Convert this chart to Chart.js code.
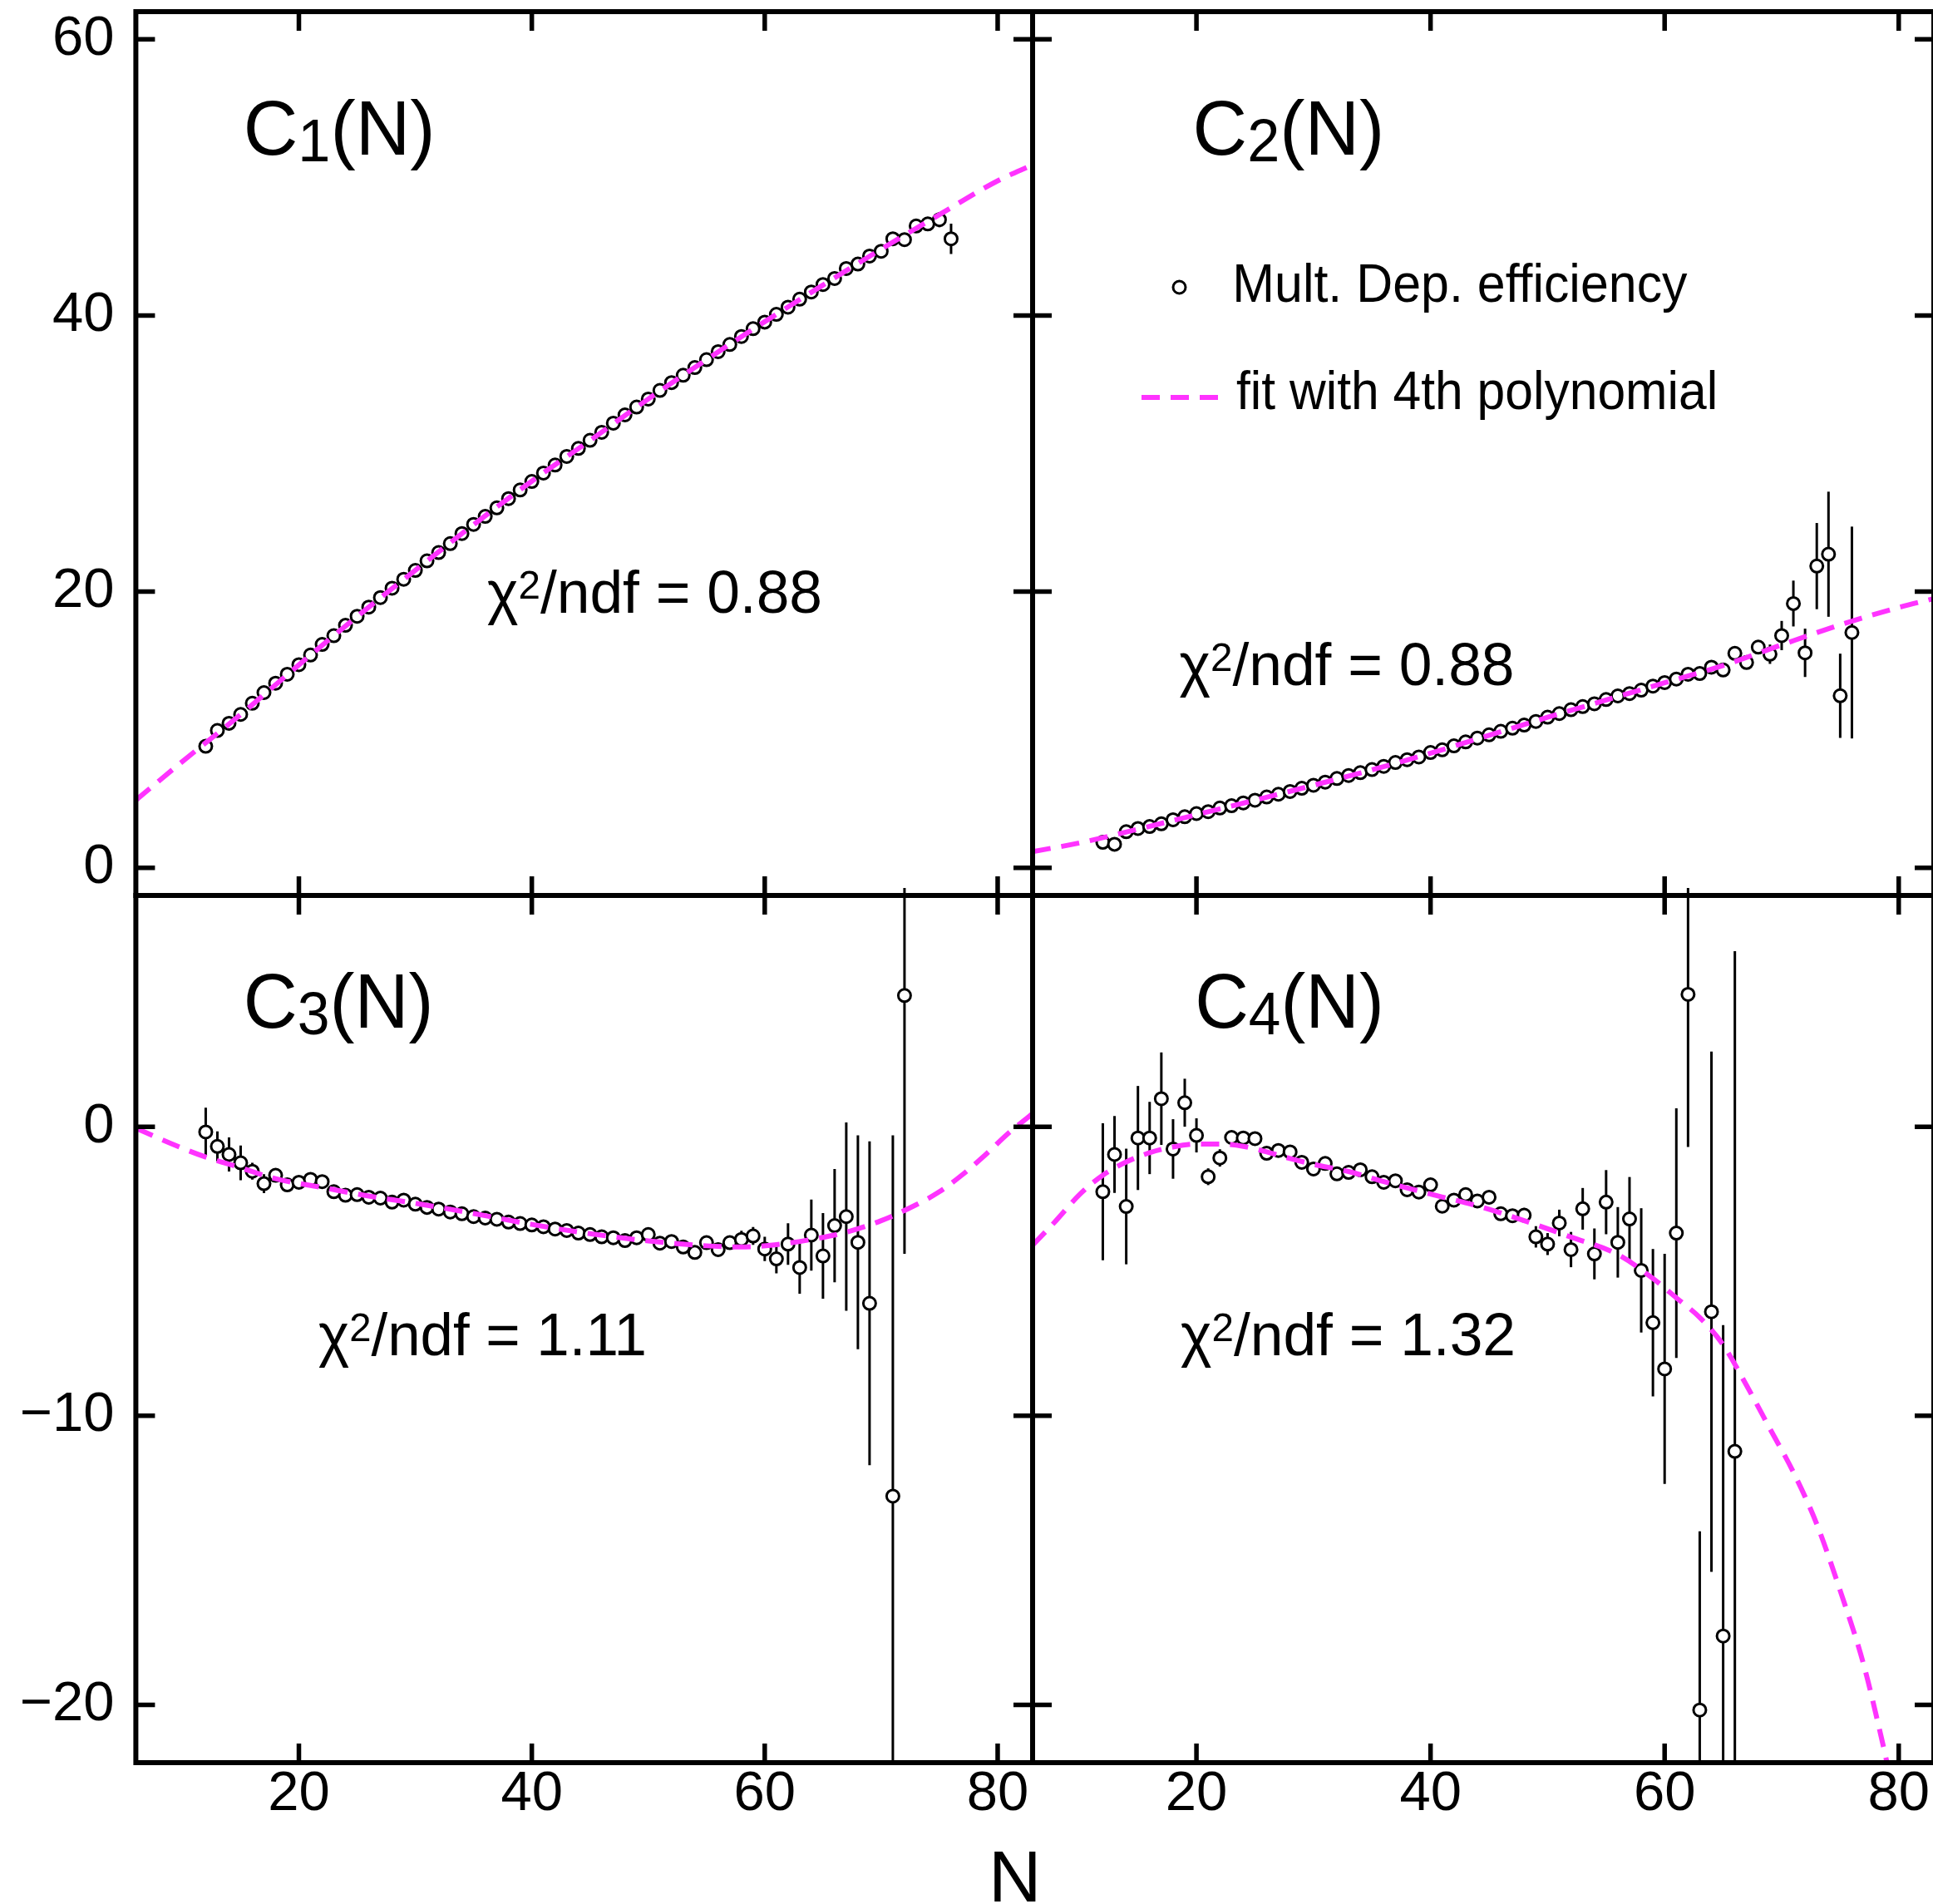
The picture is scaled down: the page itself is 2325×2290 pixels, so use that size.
<!DOCTYPE html>
<html>
<head>
<meta charset="utf-8">
<script src="https://cdn.jsdelivr.net/npm/chart.js@4.4.1/dist/chart.umd.min.js"></script>
<style>
html, body { margin:0; padding:0; background:#ffffff; width:2325px; height:2290px; overflow:hidden; }
canvas { position:absolute; left:0; top:0; }
</style>
</head>
<body>
<canvas id="c1" width="2340" height="2310"></canvas>
<canvas id="c2" width="2340" height="2310"></canvas>
<canvas id="c3" width="2340" height="2310"></canvas>
<canvas id="c4" width="2340" height="2310"></canvas>
<script>
// ---------------- data ----------------
const x_ticks = [20, 40, 60, 80];
const y_ticks_top = [0, 20, 40, 60];
const y_ticks_bottom = [-20, -10, 0];

const n_c1 = [12,13,14,15,16,17,18,19,20,21,22,23,24,25,26,27,28,29,30,31,32,33,34,35,36,37,38,39,40,41,42,43,44,45,46,47,48,49,50,51,52,53,54,55,56,57,58,59,60,61,62,63,64,65,66,67,68,69,70,71,72,73,74,75,76];
const c1_val = [8.80,9.95,10.47,11.11,11.92,12.69,13.37,14.02,14.71,15.41,16.18,16.81,17.56,18.22,18.88,19.57,20.25,20.90,21.54,22.23,22.83,23.48,24.21,24.87,25.45,26.07,26.74,27.36,27.98,28.59,29.17,29.79,30.37,30.96,31.54,32.20,32.80,33.37,33.95,34.57,35.14,35.67,36.23,36.80,37.38,37.90,38.48,39.04,39.52,40.08,40.60,41.18,41.70,42.24,42.68,43.40,43.72,44.30,44.65,45.55,45.49,46.48,46.63,46.94,45.55];
const c1_err = [0.08,0.08,0.08,0.08,0.08,0.08,0.08,0.08,0.08,0.08,0.08,0.08,0.08,0.08,0.08,0.08,0.08,0.08,0.08,0.08,0.08,0.08,0.08,0.08,0.08,0.08,0.08,0.08,0.08,0.08,0.08,0.08,0.08,0.08,0.08,0.08,0.08,0.08,0.08,0.10,0.10,0.10,0.10,0.10,0.10,0.10,0.10,0.10,0.10,0.15,0.15,0.15,0.15,0.15,0.15,0.20,0.20,0.20,0.20,0.30,0.30,0.35,0.45,0.55,1.10];

const n_c2 = [12,13,14,15,16,17,18,19,20,21,22,23,24,25,26,27,28,29,30,31,32,33,34,35,36,37,38,39,40,41,42,43,44,45,46,47,48,49,50,51,52,53,54,55,56,57,58,59,60,61,62,63,64,65,66,67,68,69,70,71,72,73,74,75,76];
const c2_val = [1.85,1.71,2.62,2.85,2.99,3.19,3.48,3.70,3.93,4.07,4.33,4.50,4.70,4.90,5.13,5.33,5.53,5.76,5.98,6.21,6.47,6.69,6.89,7.12,7.35,7.63,7.83,8.03,8.35,8.55,8.83,9.12,9.40,9.63,9.89,10.11,10.34,10.60,10.91,11.17,11.45,11.68,11.88,12.19,12.45,12.62,12.87,13.16,13.42,13.67,14.02,14.07,14.53,14.33,15.53,14.87,15.98,15.47,16.82,19.14,15.57,21.85,22.71,12.46,17.04];
const c2_err = [0.08,0.08,0.08,0.08,0.08,0.08,0.08,0.08,0.08,0.08,0.08,0.08,0.08,0.08,0.08,0.08,0.08,0.08,0.08,0.08,0.08,0.08,0.08,0.08,0.08,0.08,0.08,0.08,0.08,0.08,0.08,0.08,0.08,0.08,0.08,0.08,0.08,0.08,0.08,0.08,0.08,0.08,0.08,0.08,0.12,0.12,0.12,0.12,0.12,0.12,0.12,0.20,0.25,0.25,0.30,0.35,0.50,0.70,1.06,1.66,1.75,3.12,4.53,3.05,7.67];

const n_c3 = [12,13,14,15,16,17,18,19,20,21,22,23,24,25,26,27,28,29,30,31,32,33,34,35,36,37,38,39,40,41,42,43,44,45,46,47,48,49,50,51,52,53,54,55,56,57,58,59,60,61,62,63,64,65,66,67,68,69,71,72];
const c3_val = [-0.18,-0.68,-0.96,-1.25,-1.54,-1.97,-1.68,-2.01,-1.92,-1.82,-1.90,-2.25,-2.37,-2.35,-2.44,-2.47,-2.61,-2.54,-2.68,-2.79,-2.85,-2.95,-3.01,-3.11,-3.16,-3.20,-3.30,-3.35,-3.40,-3.46,-3.54,-3.59,-3.68,-3.73,-3.81,-3.84,-3.94,-3.84,-3.73,-4.03,-3.97,-4.16,-4.35,-4.01,-4.25,-4.01,-3.90,-3.78,-4.23,-4.57,-4.06,-4.87,-3.75,-4.47,-3.42,-3.11,-4.00,-6.11,-12.78,4.54];
const c3_err = [0.84,0.52,0.59,0.60,0.29,0.33,0.20,0.15,0.14,0.13,0.12,0.10,0.10,0.10,0.10,0.10,0.10,0.10,0.10,0.10,0.10,0.10,0.10,0.10,0.10,0.10,0.10,0.10,0.10,0.10,0.10,0.10,0.10,0.10,0.10,0.10,0.10,0.10,0.10,0.12,0.12,0.12,0.12,0.12,0.15,0.18,0.30,0.31,0.42,0.50,0.72,0.91,1.23,1.48,1.96,3.26,3.70,5.60,12.48,8.94];

const n_c4 = [12,13,14,15,16,17,18,19,20,21,22,23,24,25,26,27,28,29,30,31,32,33,34,35,36,37,38,39,40,41,42,43,44,45,46,47,48,49,50,51,52,53,54,55,56,57,58,59,60,61,62,63,64,65,66];
const c4_val = [-2.25,-0.96,-2.76,-0.39,-0.39,0.97,-0.77,0.83,-0.30,-1.73,-1.08,-0.37,-0.39,-0.41,-0.92,-0.82,-0.87,-1.23,-1.46,-1.27,-1.63,-1.58,-1.49,-1.73,-1.92,-1.87,-2.18,-2.26,-2.01,-2.75,-2.54,-2.35,-2.57,-2.44,-3.01,-3.08,-3.06,-3.81,-4.06,-3.33,-4.25,-2.84,-4.40,-2.61,-4.00,-3.19,-4.97,-6.78,-8.38,-3.68,4.58,-20.18,-6.40,-17.62,-11.23];
const c4_err = [2.37,1.33,2.00,1.80,1.25,1.60,1.03,0.83,0.59,0.29,0.30,0.15,0.15,0.15,0.14,0.14,0.14,0.14,0.14,0.14,0.14,0.15,0.15,0.15,0.16,0.16,0.17,0.17,0.18,0.18,0.19,0.19,0.20,0.20,0.20,0.20,0.25,0.37,0.38,0.46,0.61,0.72,0.88,1.11,1.22,1.45,2.15,2.55,3.98,4.32,5.28,6.18,9.00,10.76,17.30];

// 4th-order polynomial fit curves
const fit_n_c1 = [6,10,15,20,25,30,35,40,45,50,55,60,65,70,75,80,83];
const fit_c1 = [4.9,7.7,11.1,14.7,18.2,21.55,24.85,28.0,30.95,33.95,36.8,39.55,42.2,44.8,47.3,49.75,50.9];
const fit_n_c2 = [6,10,15,20,25,30,35,40,45,50,55,60,65,70,75,80,83];
const fit_c2 = [1.18,1.8,2.8,3.85,4.9,5.98,7.1,8.3,9.6,10.9,12.15,13.4,14.65,16.15,17.6,18.85,19.5];
const fit_n_c3 = [6,9,12,15,18,22,26,30,35,40,45,50,55,58,61,64,67,70,73,75,77,79,81,83];
const fit_c3 = [-0.05,-0.58,-1.05,-1.42,-1.8,-2.1,-2.4,-2.65,-3.0,-3.38,-3.7,-3.95,-4.12,-4.16,-4.08,-3.9,-3.65,-3.25,-2.7,-2.25,-1.65,-0.95,-0.2,0.45];
const fit_n_c4 = [6,8,10,12,14,16,18,20,22,24,26,28,30,33,36,40,44,48,52,56,59,61,63,65,67,69,71,73,75,77,78.5,79];
const fit_c4 = [-4.1,-3.25,-2.35,-1.68,-1.22,-0.9,-0.7,-0.6,-0.6,-0.68,-0.87,-1.1,-1.3,-1.55,-1.9,-2.33,-2.74,-3.25,-3.82,-4.42,-5.25,-5.92,-6.6,-7.55,-8.95,-10.45,-11.95,-13.75,-16.05,-18.6,-21.1,-22.0];

const panel_names = ['1', '2', '3', '4'];
const chi_texts = ['0.88', '0.88', '1.11', '1.32'];
const legend_texts = ['Mult. Dep. efficiency', 'fit with 4th polynomial'];
const axis_title = 'N';

// ---------------- styling ----------------
const FONT = '"Liberation Sans", Arial, Helvetica, sans-serif';
const MAGENTA = '#ff33ff';
const DASH = [22, 13];
const CW = 2340, CH = 2310;
const MID_Y = 1077;
const MID_X = 1242;
const RIGHT_X = 2326;
const TICK_FONT = 67;
Chart.defaults.font.family = FONT;

const deco = {
  c1: { title: {x: 296.6, y: 186, w: 222}, chi: {x: 586, y: 737, w: 400}, idx: 0, legend: false, axisTitle: false, barOver: 0 },
  c2: { title: {x: 1438.5, y: 186, w: 222}, chi: {x: 1418.5, y: 824, w: 400}, idx: 1, legend: true, axisTitle: false, barOver: 0 },
  c3: { title: {x: 296.7, y: 1236, w: 220}, chi: {x: 383, y: 1630, w: 392}, idx: 2, legend: false, axisTitle: true, barOver: 9 },
  c4: { title: {x: 1441, y: 1236, w: 219}, chi: {x: 1420, y: 1630, w: 400}, idx: 3, legend: false, axisTitle: false, barOver: 9 }
};

function fmt(v) { return v < 0 ? '\u2212' + Math.abs(v) : String(v); }

function drawParts(ctx, parts, left, baseline, targetW) {
  const m = parts.map(p => { ctx.font = p.size + 'px ' + FONT; return ctx.measureText(p.t); });
  let sum = 0;
  for (let i = 0; i < parts.length - 1; i++) sum += m[i].width;
  const ink = m[0].actualBoundingBoxLeft + sum + m[parts.length - 1].actualBoundingBoxRight;
  const sx = targetW / ink;
  ctx.save();
  ctx.translate(left + m[0].actualBoundingBoxLeft * sx, baseline);
  ctx.scale(sx, 1);
  ctx.fillStyle = '#000';
  ctx.textAlign = 'left';
  ctx.textBaseline = 'alphabetic';
  let cx = 0;
  parts.forEach((p, i) => {
    ctx.font = p.size + 'px ' + FONT;
    ctx.fillText(p.t, cx, p.dy || 0);
    cx += m[i].width;
  });
  ctx.restore();
}

const decoPlugin = {
  id: 'decoPlugin',
  beforeDatasetsDraw(chart) {
    const {ctx, chartArea: a} = chart;
    const xs = chart.scales.x, ys = chart.scales.y;
    const ds = chart.data.datasets[1];
    const over = deco[chart.canvas.id].barOver;
    ctx.save();
    ctx.beginPath();
    ctx.rect(a.left, a.top - over, a.right - a.left, a.bottom - a.top + over);
    ctx.clip();
    ctx.strokeStyle = '#000';
    ctx.lineWidth = 3;
    ds.data.forEach((p, i) => {
      const e = ds.errors[i];
      const px = xs.getPixelForValue(p.x);
      ctx.beginPath();
      ctx.moveTo(px, ys.getPixelForValue(p.y + e));
      ctx.lineTo(px, ys.getPixelForValue(p.y - e));
      ctx.stroke();
    });
    ctx.restore();
  },
  afterDraw(chart) {
    const {ctx, chartArea: a} = chart;
    const xs = chart.scales.x, ys = chart.scales.y;
    const d = deco[chart.canvas.id];
    const yt = chart.options.scales.y.min < -10 ? y_ticks_bottom : y_ticks_top;
    ctx.save();
    ctx.strokeStyle = '#000';
    ctx.lineWidth = 6;
    ctx.strokeRect(a.left, a.top, a.right - a.left, a.bottom - a.top);
    ctx.lineWidth = 5.5;
    const TL = 23;
    x_ticks.forEach(v => {
      const px = xs.getPixelForValue(v);
      ctx.beginPath();
      ctx.moveTo(px, a.top); ctx.lineTo(px, a.top + TL);
      ctx.moveTo(px, a.bottom); ctx.lineTo(px, a.bottom - TL);
      ctx.stroke();
    });
    yt.forEach(v => {
      const py = ys.getPixelForValue(v);
      ctx.beginPath();
      ctx.moveTo(a.left, py); ctx.lineTo(a.left + TL, py);
      ctx.moveTo(a.right, py); ctx.lineTo(a.right - TL, py);
      ctx.stroke();
    });
    ctx.restore();

    // panel label C_k(N)
    drawParts(ctx, [
      {t: 'C', size: 93},
      {t: panel_names[d.idx], size: 72, dy: 8},
      {t: '(N)', size: 93}
    ], d.title.x, d.title.y, d.title.w);

    // chi2/ndf
    drawParts(ctx, [
      {t: '\u03C7', size: 72},
      {t: '2', size: 48, dy: -17},
      {t: '/ndf = ' + chi_texts[d.idx], size: 72}
    ], d.chi.x, d.chi.y, d.chi.w);

    // x-axis title, right-aligned at the end of the axis
    if (d.axisTitle) {
      ctx.save();
      ctx.font = '88px ' + FONT;
      const mN = ctx.measureText(axis_title);
      ctx.fillStyle = '#000';
      ctx.textAlign = 'left';
      ctx.textBaseline = 'alphabetic';
      ctx.fillText(axis_title, a.right + 4 - mN.actualBoundingBoxRight, 2287);
      ctx.restore();
    }

    if (d.legend) {
      ctx.save();
      ctx.beginPath();
      ctx.arc(1418.5, 345.5, 7.5, 0, Math.PI * 2);
      ctx.fillStyle = '#fff';
      ctx.fill();
      ctx.lineWidth = 3;
      ctx.strokeStyle = '#000';
      ctx.stroke();
      ctx.beginPath();
      ctx.setLineDash(DASH);
      ctx.lineWidth = 6;
      ctx.strokeStyle = MAGENTA;
      ctx.moveTo(1373, 478);
      ctx.lineTo(1467, 478);
      ctx.stroke();
      ctx.restore();
      drawParts(ctx, [{t: legend_texts[0], size: 65}], 1487, 363, 543);
      drawParts(ctx, [{t: legend_texts[1], size: 65}], 1487, 492, 576);
    }
  }
};

function makePanel(id, n, val, err, fn, fv, yMin, yMax, yTicks, pad, showY, showX) {
  const ctx = document.getElementById(id).getContext('2d');
  return new Chart(ctx, {
    type: 'scatter',
    data: {
      datasets: [
        {
          label: 'fit with 4th polynomial',
          data: fn.map((x, i) => ({x: x, y: fv[i]})),
          showLine: true,
          borderColor: MAGENTA,
          borderWidth: 6,
          borderDash: DASH,
          pointRadius: 0,
          fill: false,
          cubicInterpolationMode: 'monotone',
          order: 0
        },
        {
          label: 'Mult. Dep. efficiency',
          data: n.map((x, i) => ({x: x, y: val[i]})),
          errors: err,
          pointStyle: 'circle',
          pointRadius: 7.5,
          pointBorderWidth: 3,
          pointBorderColor: '#000',
          pointBackgroundColor: '#fff',
          order: 1
        }
      ]
    },
    options: {
      responsive: false,
      animation: false,
      devicePixelRatio: 1,
      layout: { padding: pad },
      plugins: { legend: {display: false}, tooltip: {enabled: false}, title: {display: false} },
      scales: {
        x: {
          type: 'linear', position: 'bottom', min: 6, max: 83,
          display: showX,
          grid: {display: false, drawTicks: false},
          border: {display: false},
          afterBuildTicks: s => { s.ticks = x_ticks.map(v => ({value: v})); },
          afterFit: s => {
            if (showX) { s.height = CH - 2120; }
            s.paddingLeft = 0; s.paddingRight = 0;
          },
          ticks: {
            autoSkip: false, maxRotation: 0, minRotation: 0, padding: 5, color: '#000',
            font: {size: TICK_FONT, family: FONT, lineHeight: 1},
            callback: v => fmt(v)
          }
        },
        y: {
          type: 'linear', position: 'left', min: yMin, max: yMax,
          display: showY,
          grid: {display: false, drawTicks: false},
          border: {display: false},
          afterBuildTicks: s => { s.ticks = yTicks.map(v => ({value: v})); },
          afterFit: s => {
            if (showY) { s.width = 163.4; }
            s.paddingTop = 0; s.paddingBottom = 0;
          },
          ticks: {
            padding: 26, color: '#000',
            font: {size: TICK_FONT, family: FONT, lineHeight: 1},
            callback: v => fmt(v)
          }
        }
      }
    },
    plugins: [decoPlugin]
  });
}

makePanel('c1', n_c1, c1_val, c1_err, fit_n_c1, fit_c1, -2, 62, y_ticks_top,
  {left: 0, top: 14, right: CW - MID_X, bottom: CH - MID_Y}, true, false);
makePanel('c2', n_c2, c2_val, c2_err, fit_n_c2, fit_c2, -2, 62, y_ticks_top,
  {left: MID_X, top: 14, right: CW - RIGHT_X, bottom: CH - MID_Y}, false, false);
makePanel('c3', n_c3, c3_val, c3_err, fit_n_c3, fit_c3, -22, 8, y_ticks_bottom,
  {left: 0, top: MID_Y, right: CW - MID_X, bottom: 0}, true, true);
makePanel('c4', n_c4, c4_val, c4_err, fit_n_c4, fit_c4, -22, 8, y_ticks_bottom,
  {left: MID_X, top: MID_Y, right: CW - RIGHT_X, bottom: 0}, false, true);
</script>
</body>
</html>
